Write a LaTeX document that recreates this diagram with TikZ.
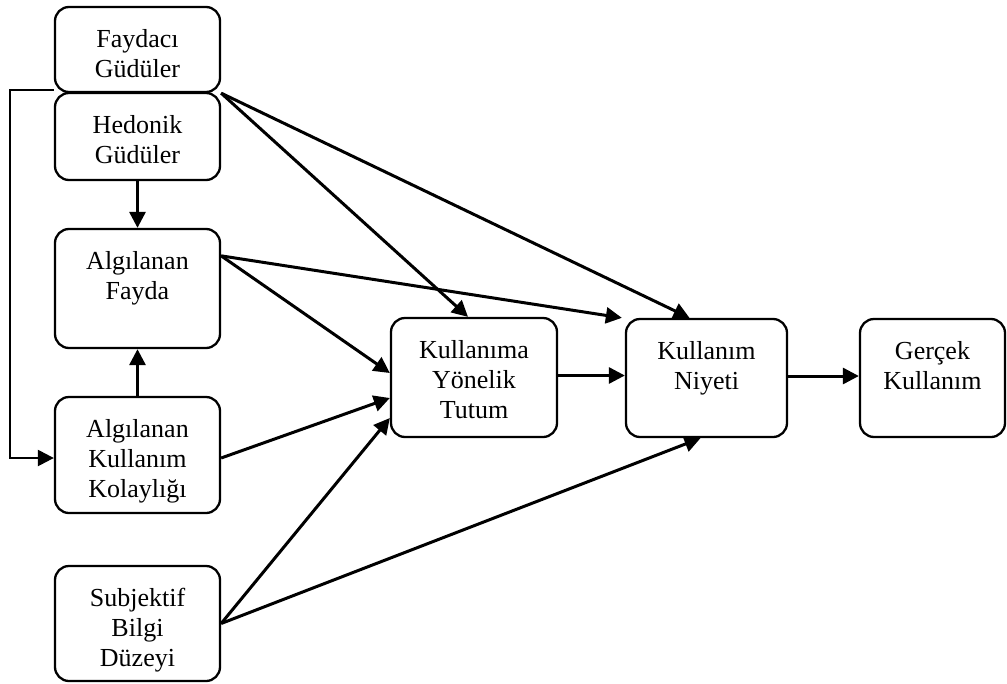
\documentclass[tikz,border=0pt]{standalone}
\usepackage{fontspec}
\setmainfont{Liberation Serif}
\usetikzlibrary{arrows.meta}

% box label: fixed-size box with the text set from the top
\newcommand{\boxlbl}[3]{\parbox[c][#2][t]{#1}{\centering\rule{0pt}{40pt}#3}}

\tikzset{
  blk/.style={draw, line width=2.3pt, rounded corners=14pt, inner sep=0pt,
    font=\fontsize{26}{30}\selectfont},
  link/.style={line width=3pt, -{Triangle[length=16pt,width=16pt]}},
  feed/.style={line width=2.4pt, -{Triangle[length=16pt,width=16pt]}}
}

\begin{document}
\begin{tikzpicture}[x=1pt, y=-1pt]
\useasboundingbox (0,0) rectangle (1007,683);

% left column
\node[blk] (fay) at (137.5,49.5)  {\boxlbl{165pt}{85pt}{Faydacı\\Güdüler}};
\node[blk] (hed) at (137.5,136.5) {\boxlbl{165pt}{87pt}{Hedonik\\Güdüler}};
\node[blk] (af)  at (137.5,288.5) {\boxlbl{165pt}{119pt}{Algılanan\\Fayda}};
\node[blk] (ak)  at (137.5,455)   {\boxlbl{165pt}{116pt}{Algılanan\\Kullanım\\Kolaylığı}};
\node[blk] (sb)  at (137.5,623.5) {\boxlbl{165pt}{115pt}{Subjektif\\Bilgi\\Düzeyi}};

% middle and right
\node[blk] (kt) at (474,377.5) {\boxlbl{166pt}{119pt}{Kullanıma\\Yönelik\\Tutum}};
\node[blk] (kn) at (706.5,378) {\boxlbl{161pt}{118pt}{Kullanım\\Niyeti}};
\node[blk] (gk) at (932.5,378) {\boxlbl{145pt}{118pt}{Gerçek\\Kullanım}};

\coordinate (lft) at (10,0);

% vertical links in the left column
\draw[link] (hed.south) -- (af.north);
\draw[link] (ak.north) -- (af.south);

% motives
\draw[link] (fay.south east) -- ([xshift=-6pt]kt.north);
\draw[link] (fay.south east) -- ([xshift=-17pt]kn.north);

% perceived usefulness
\draw[link] ([yshift=-28pt]af.north east) -- ([yshift=4.5pt]kt.west);
\draw[link] ([yshift=-28pt]af.north east) -- ([xshift=-3pt]kn.north west);

% ease of use
\draw[link] ([yshift=-3pt]ak.east) -- ([yshift=-20.5pt]kt.west);

% subjective knowledge
\draw[link] (sb.east) -- ([yshift=-40.5pt]kt.west);
\draw[link] (sb.east) -- ([xshift=-6pt]kn.south);

% main chain
\draw[link] ([yshift=2pt]kt.east) -- ([yshift=2pt]kt.east -| kn.west);
\draw[link] ([yshift=2pt]kn.east) -- ([yshift=2pt]kn.east -| gk.west);

% feedback line from motives to ease of use
\draw[feed] ([yshift=3pt]fay.south west) -- ([yshift=3pt]fay.south west -| lft)
  |- ([yshift=-3pt]ak.west);
\end{tikzpicture}
\end{document}
